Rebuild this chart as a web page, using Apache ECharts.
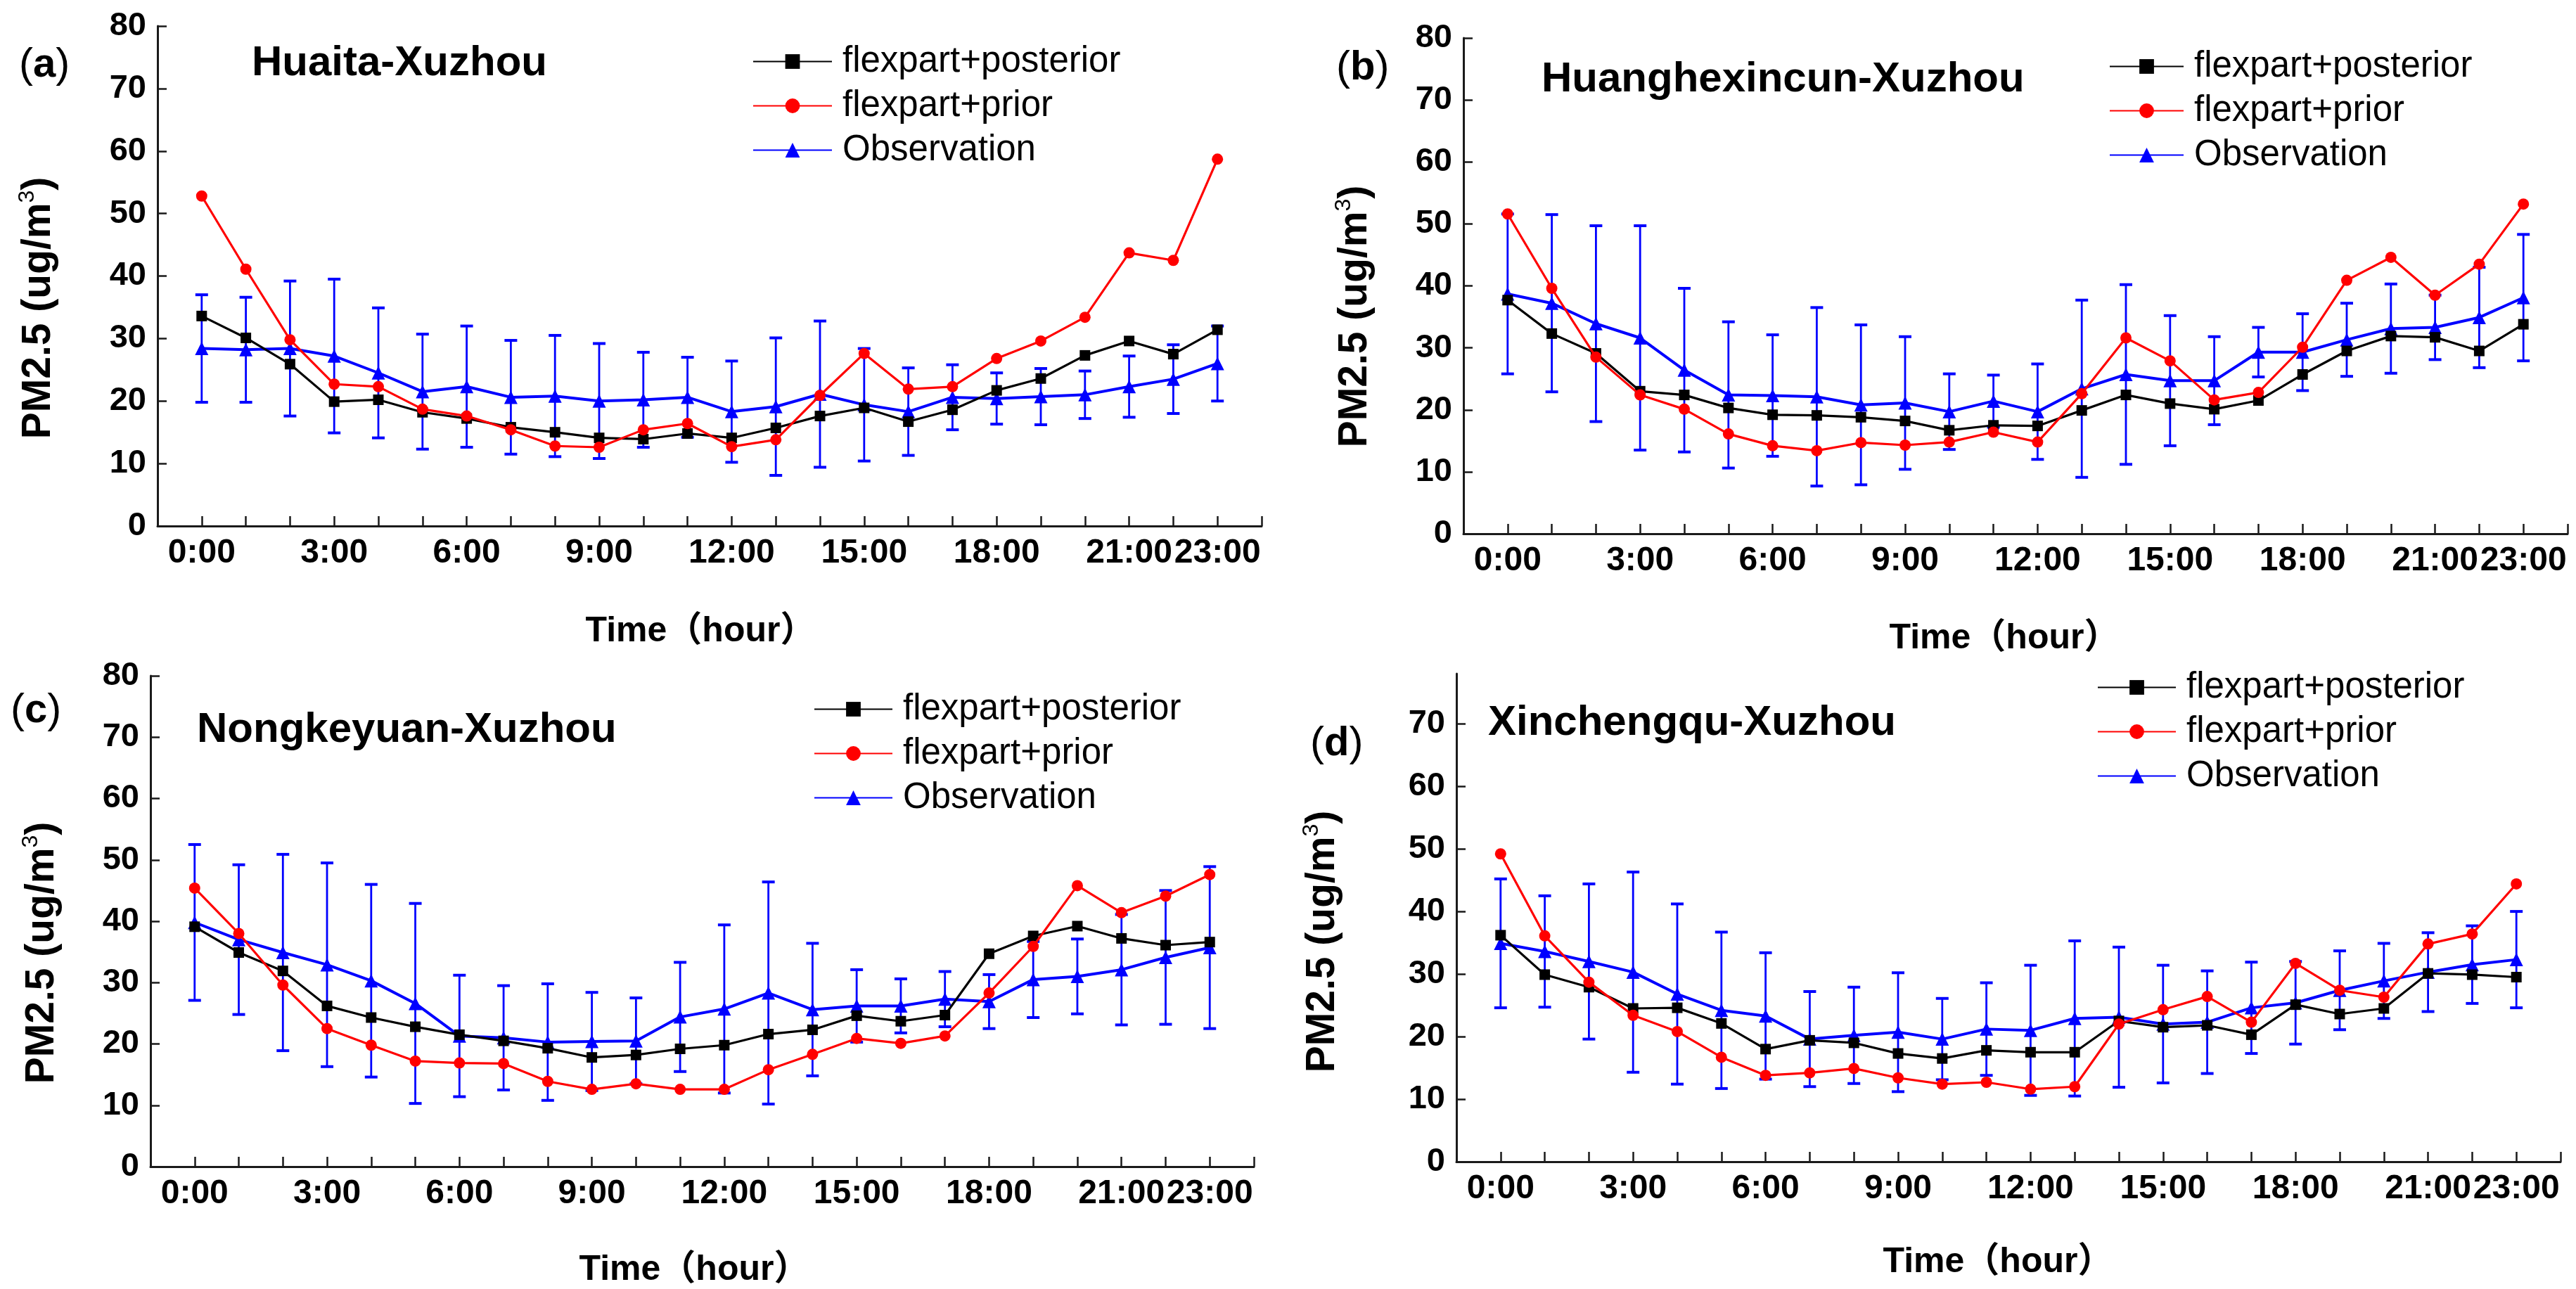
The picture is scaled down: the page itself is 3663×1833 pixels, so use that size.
<!DOCTYPE html>
<html>
<head>
<meta charset="utf-8">
<script src="https://cdn.jsdelivr.net/npm/echarts@6/dist/echarts.min.js"></script>
<style>
html,body{margin:0;padding:0;background:#fff;}
#chart{width:3663px;height:1833px;}
</style>
</head>
<body>
<div id="chart"></div>
<script>
// ---------- DATA ----------
const hours = [0,1,2,3,4,5,6,7,8,9,10,11,12,13,14,15,16,17,18,19,20,21,22,23];
const tickLabelHours = [0,3,6,9,12,15,18,21,23];
const tickLabelTexts = ['0:00','3:00','6:00','9:00','12:00','15:00','18:00','21:00','23:00'];
const seriesNames = ['flexpart+posterior','flexpart+prior','Observation'];
const panelLetters = ['a','b','c','d'];
const stationNames = ['Huaita-Xuzhou','Huanghexincun-Xuzhou','Nongkeyuan-Xuzhou','Xinchengqu-Xuzhou'];
const xAxisTitle = 'Time（hour）';

// (a) Huaita
const postA  = [33.6,30.1,25.9,19.9,20.2,18.2,17.2,15.8,15.0,14.1,13.9,14.8,14.1,15.7,17.6,18.9,16.7,18.6,21.7,23.6,27.3,29.6,27.5,31.4];
const priorA = [52.8,41.1,29.8,22.7,22.3,18.7,17.6,15.4,12.8,12.6,15.4,16.4,12.7,13.8,20.9,27.6,21.9,22.3,26.8,29.6,33.4,43.7,42.5,58.7];
const obsA   = [28.4,28.2,28.4,27.2,24.5,21.5,22.3,20.6,20.8,20.0,20.2,20.6,18.3,19.1,21.1,19.4,18.3,20.6,20.4,20.7,21.0,22.3,23.5,26.0];
const sdA    = [8.6,8.4,10.8,12.3,10.4,9.2,9.7,9.1,9.7,9.2,7.6,6.4,8.1,11.0,11.7,9.0,7.0,5.2,4.1,4.5,3.8,4.9,5.5,6.0];

// (b) Huanghexincun
const postB  = [37.7,32.3,29.1,23.0,22.4,20.3,19.2,19.1,18.8,18.2,16.7,17.5,17.4,19.9,22.4,21.0,20.1,21.5,25.7,29.5,31.9,31.7,29.5,33.8];
const priorB = [51.6,39.6,28.5,22.4,20.1,16.1,14.2,13.4,14.7,14.3,14.8,16.4,14.8,22.6,31.6,27.9,21.6,22.8,30.1,40.9,44.6,38.5,43.5,53.2];
const obsB   = [38.7,37.2,33.9,31.6,26.4,22.4,22.3,22.1,20.8,21.1,19.7,21.4,19.7,23.4,25.7,24.7,24.7,29.3,29.3,31.3,33.1,33.3,34.9,38.1];
const sdB    = [12.9,14.3,15.8,18.1,13.2,11.8,9.8,14.4,12.9,10.7,6.1,4.2,7.7,14.3,14.5,10.5,7.1,4.0,6.2,5.9,7.2,5.2,8.1,10.2];

// (c) Nongkeyuan
const postC  = [39.1,34.9,31.9,26.2,24.3,22.8,21.5,20.5,19.3,17.8,18.2,19.2,19.8,21.6,22.3,24.6,23.7,24.7,34.7,37.6,39.2,37.2,36.1,36.6];
const priorC = [45.4,38.0,29.6,22.5,19.8,17.2,16.9,16.8,13.9,12.6,13.5,12.6,12.6,15.8,18.3,20.9,20.1,21.3,28.3,35.9,45.8,41.4,44.1,47.6];
const obsC   = [39.8,37.0,34.9,32.9,30.3,26.6,21.3,21.0,20.3,20.4,20.5,24.4,25.7,28.3,25.6,26.2,26.2,27.3,26.9,30.5,31.0,32.1,34.1,35.7];
const sdC    = [12.7,12.2,16.0,16.6,15.7,16.3,9.9,8.5,9.5,8.0,7.0,8.9,13.7,18.1,10.8,5.9,4.4,4.5,4.4,6.2,6.1,9.0,10.9,13.2];

// (d) Xinchengqu
const postD  = [36.2,29.9,27.9,24.5,24.6,22.1,18.0,19.4,19.0,17.3,16.5,17.8,17.5,17.5,22.5,21.5,21.8,20.3,25.1,23.6,24.5,30.1,29.9,29.5];
const priorD = [49.2,36.1,28.7,23.4,20.8,16.7,13.8,14.2,14.9,13.4,12.4,12.7,11.6,12.0,22.0,24.3,26.4,22.3,31.7,27.4,26.3,34.8,36.4,44.4];
const obsD   = [34.9,33.6,32.0,30.3,26.8,24.2,23.3,19.6,20.2,20.7,19.6,21.2,21.0,22.9,23.1,22.0,22.3,24.6,25.4,27.4,28.9,30.3,31.5,32.3];
const sdD    = [10.3,8.9,12.4,16.0,14.4,12.5,10.1,7.6,7.7,9.5,6.5,7.4,10.4,12.4,11.2,9.4,8.2,7.3,6.6,6.3,6.0,6.3,6.2,7.7];

const yTicksFull = [0,10,20,30,40,50,60,70,80];
const yTicksD    = [0,10,20,30,40,50,60,70];
const yMaxFull = 80;
const yMaxD = 78;

// ---------- LAYOUT / STYLE ----------
const FONT = "'Liberation Sans', Arial, 'Noto Sans CJK SC', sans-serif";
const panels = [
  {post: postA, prior: priorA, obs: obsA, sd: sdA, yMax: yMaxFull, yTicks: yTicksFull,
   grid: {left: 224, top: 37, width: 1570, height: 711},
   legend: {left: 1070, top: 62, w: 112}, lab: [27, 93], ttl: [358, 90],
   yName: [55, 438], xName: [996, 898]},
  {post: postB, prior: priorB, obs: obsB, sd: sdB, yMax: yMaxFull, yTicks: yTicksFull,
   grid: {left: 2081, top: 54, width: 1570, height: 705},
   legend: {left: 2999, top: 69, w: 105}, lab: [1900, 97], ttl: [2192, 113],
   yName: [1927, 450], xName: [2850, 908]},
  {post: postC, prior: priorC, obs: obsC, sd: sdC, yMax: yMaxFull, yTicks: yTicksFull,
   grid: {left: 214, top: 961, width: 1569, height: 698},
   legend: {left: 1157, top: 983, w: 111}, lab: [15, 1011], ttl: [280, 1038],
   yName: [60, 1355], xName: [987, 1806]},
  {post: postD, prior: priorD, obs: obsD, sd: sdD, yMax: yMaxD, yTicks: yTicksD,
   grid: {left: 2071, top: 958, width: 1570, height: 694},
   legend: {left: 2982, top: 952, w: 111}, lab: [1863, 1058], ttl: [2116, 1028],
   yName: [1881, 1339], xName: [2841, 1795]}
];

const C_POST = '#000000', C_PRIOR = '#ff0000', C_OBS = '#0000ff';

const option = {
  backgroundColor: '#ffffff',
  animation: false,
  grid: [], xAxis: [], yAxis: [], series: [], legend: [], graphic: []
};

panels.forEach((p, i) => {
  option.grid.push(Object.assign({containLabel: false}, p.grid));
  option.xAxis.push({
    type: 'value', gridIndex: i, min: -1, max: 24, interval: 1,
    axisLine: {show: true, onZero: false, lineStyle: {color: '#1a1a1a', width: 3}},
    axisTick: {show: true, inside: true, length: 14, lineStyle: {color: '#1a1a1a', width: 2.5},
               customValues: hours.concat([24])},
    axisLabel: {show: true, margin: 15, fontFamily: FONT, fontSize: 48, fontWeight: 'bold', color: '#000',
                customValues: tickLabelHours,
                formatter: v => { const k = tickLabelHours.indexOf(Math.round(v)); return k >= 0 ? tickLabelTexts[k] : ''; }},
    splitLine: {show: false}
  });
  option.yAxis.push({
    type: 'value', gridIndex: i, min: 0, max: p.yMax, interval: 10,
    axisLine: {show: true, onZero: false, lineStyle: {color: '#1a1a1a', width: 3}},
    axisTick: {show: true, inside: true, length: 13, lineStyle: {color: '#1a1a1a', width: 2.5}, customValues: p.yTicks},
    axisLabel: {show: true, margin: 16, fontFamily: FONT, fontSize: 47, fontWeight: 'bold', color: '#000', customValues: p.yTicks},
    splitLine: {show: false}
  });
  option.legend.push({
    orient: 'vertical', left: p.legend.left, top: p.legend.top,
    itemWidth: p.legend.w, itemHeight: 26, itemGap: 12, padding: 0,
    data: seriesNames,
    textStyle: {fontFamily: FONT, fontSize: 51, color: '#000', lineHeight: 50, padding: [0, 0, 0, 10]},
    selectedMode: false
  });
  const errData = hours.map((h, k) => [h, +(p.obs[k] - p.sd[k]).toFixed(2), +(p.obs[k] + p.sd[k]).toFixed(2)]);
  option.series.push({
    type: 'custom', name: 'errorbar', xAxisIndex: i, yAxisIndex: i, z: 1,
    data: errData, encode: {x: 0, y: [1, 2]},
    renderItem: (params, api) => {
      const x = api.value(0), lo = api.value(1), hi = api.value(2);
      const a = api.coord([x, hi]), b = api.coord([x, lo]);
      const w = 9;
      return {type: 'group', children: [
        {type: 'line', shape: {x1: a[0], y1: a[1], x2: b[0], y2: b[1]}, style: {stroke: C_OBS, lineWidth: 2.8}},
        {type: 'line', shape: {x1: a[0] - w, y1: a[1], x2: a[0] + w, y2: a[1]}, style: {stroke: C_OBS, lineWidth: 4}},
        {type: 'line', shape: {x1: b[0] - w, y1: b[1], x2: b[0] + w, y2: b[1]}, style: {stroke: C_OBS, lineWidth: 4}}
      ]};
    }
  });
  option.series.push({
    type: 'line', name: 'Observation', xAxisIndex: i, yAxisIndex: i, z: 2,
    data: hours.map((h, k) => [h, p.obs[k]]),
    symbol: 'triangle', symbolSize: 19, color: C_OBS,
    lineStyle: {color: C_OBS, width: 4}, itemStyle: {color: C_OBS}
  });
  option.series.push({
    type: 'line', name: 'flexpart+posterior', xAxisIndex: i, yAxisIndex: i, z: 3,
    data: hours.map((h, k) => [h, p.post[k]]),
    symbol: 'rect', symbolSize: 15, color: C_POST,
    lineStyle: {color: C_POST, width: 3.2}, itemStyle: {color: C_POST}
  });
  option.series.push({
    type: 'line', name: 'flexpart+prior', xAxisIndex: i, yAxisIndex: i, z: 4,
    data: hours.map((h, k) => [h, p.prior[k]]),
    symbol: 'circle', symbolSize: 16, color: C_PRIOR,
    lineStyle: {color: C_PRIOR, width: 3.2}, itemStyle: {color: C_PRIOR}
  });
  option.graphic.push({
    type: 'text', x: p.lab[0], y: p.lab[1],
    style: {text: '{p|(}{b|' + panelLetters[i] + '}{p|)}', verticalAlign: 'middle',
      rich: {p: {fontFamily: FONT, fontSize: 60, fontWeight: 'normal', fill: '#000'},
             b: {fontFamily: FONT, fontSize: 58, fontWeight: 'bold', fill: '#000'}}}
  });
  option.graphic.push({
    type: 'text', x: p.ttl[0], y: p.ttl[1],
    style: {text: stationNames[i], verticalAlign: 'middle', font: 'bold 60px ' + FONT, fill: '#000'}
  });
  option.graphic.push({
    type: 'text', x: p.xName[0], y: p.xName[1],
    style: {text: xAxisTitle, align: 'center', verticalAlign: 'middle', font: 'bold 50px ' + FONT, fill: '#000'}
  });
  option.graphic.push({
    type: 'text', x: p.yName[0], y: p.yName[1], rotation: Math.PI / 2,
    style: {text: '{a|PM2.5 (ug/m}{s|3}{a|)}', align: 'center', verticalAlign: 'middle',
      rich: {a: {fontFamily: FONT, fontSize: 57, fontWeight: 'bold', fill: '#000', lineHeight: 64},
             s: {fontFamily: FONT, fontSize: 32, fontWeight: 'normal', fill: '#000', lineHeight: 40, verticalAlign: 'top'}}}
  });
});

const chart = echarts.init(document.getElementById('chart'), null, {renderer: 'canvas'});
chart.setOption(option);
</script>
</body>
</html>
